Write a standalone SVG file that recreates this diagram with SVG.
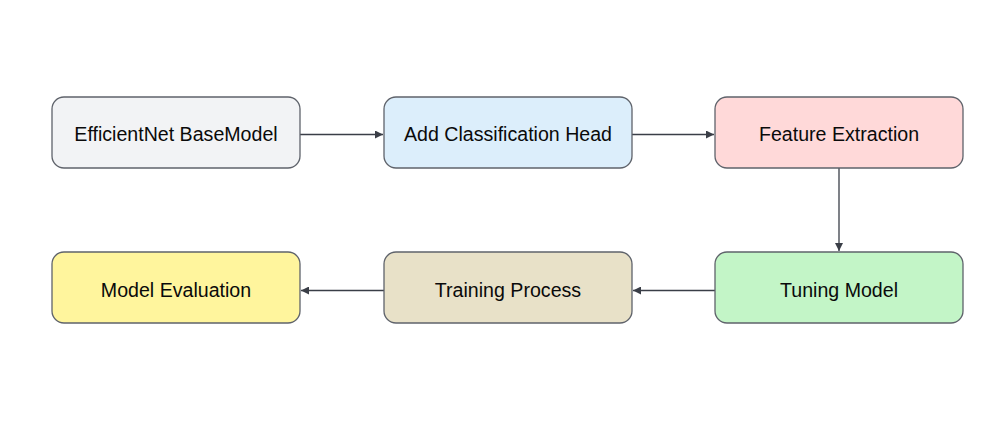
<svg xmlns="http://www.w3.org/2000/svg" width="1008" height="433" viewBox="0 0 1008 433">
<style>
.box{stroke:#5f636b;stroke-width:1.3}
.lbl{font-family:"Liberation Sans",Arial,sans-serif;font-size:19.6px;fill:#0a0a0a;text-anchor:middle;dominant-baseline:central}
.edge{stroke:#3a3e47;stroke-width:1.3;fill:none;marker-end:url(#ah)}
</style>
<defs>
<marker id="ah" viewBox="0 0 10 10" refX="10" refY="5" markerWidth="8" markerHeight="8" markerUnits="userSpaceOnUse" orient="auto">
<path d="M0,0 L10,5 L0,10 z" fill="#3a3e47"/>
</marker>
</defs>
<rect width="1008" height="433" fill="#ffffff"/>
<g id="connectors">
<line class="edge" x1="300" y1="134.5" x2="383" y2="134.5"/>
<line class="edge" x1="632" y1="134.5" x2="714" y2="134.5"/>
<line class="edge" x1="839" y1="168" x2="839" y2="251"/>
<line class="edge" x1="715" y1="290.5" x2="633" y2="290.5"/>
<line class="edge" x1="384" y1="290.5" x2="301" y2="290.5"/>
</g>
<g id="n1"><rect class="box" x="52" y="97" width="248" height="71" rx="12" fill="#f2f3f5"/><text class="lbl" x="176" y="134">EfficientNet BaseModel</text></g>
<g id="n2"><rect class="box" x="384" y="97" width="248" height="71" rx="12" fill="#dceefb"/><text class="lbl" x="508" y="134">Add Classification Head</text></g>
<g id="n3"><rect class="box" x="715" y="97" width="248" height="71" rx="12" fill="#ffd9d9"/><text class="lbl" x="839" y="134">Feature Extraction</text></g>
<g id="n4"><rect class="box" x="715" y="252" width="248" height="71" rx="12" fill="#c3f5c7"/><text class="lbl" x="839" y="290">Tuning Model</text></g>
<g id="n5"><rect class="box" x="384" y="252" width="248" height="71" rx="12" fill="#e8e1c8"/><text class="lbl" x="508" y="290">Training Process</text></g>
<g id="n6"><rect class="box" x="52" y="252" width="248" height="71" rx="12" fill="#fff59d"/><text class="lbl" x="176" y="290">Model Evaluation</text></g>
</svg>
